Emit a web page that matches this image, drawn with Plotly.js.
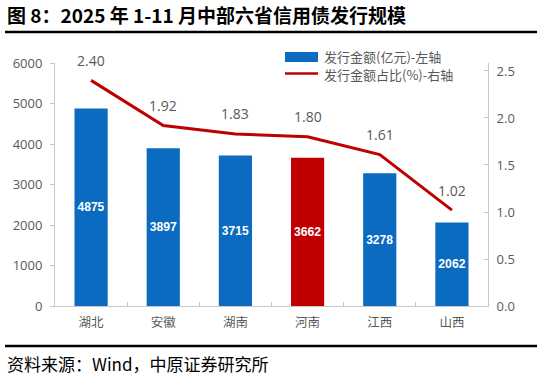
<!DOCTYPE html>
<html>
<head>
<meta charset="utf-8">
<script src="https://cdn.plot.ly/plotly-3.0.1.min.js"></script>
<style>
  html, body { margin: 0; padding: 0; background: #fff; }
  #chart { width: 542px; height: 378px; }
</style>
</head>
<body>
<div id="chart"></div>
<script>
// 2025年1-11月中部六省信用债发行规模
const provinces = ['湖北', '安徽', '湖南', '河南', '江西', '山西'];
const issueAmount = [4875, 3897, 3715, 3662, 3278, 2062];      // 亿元，左轴
const issueShare = [2.40, 1.92, 1.83, 1.80, 1.61, 1.02];        // %，右轴
const leftTicks = [0, 1000, 2000, 3000, 4000, 5000, 6000];
const rightTicks = [0, 0.5, 1.0, 1.5, 2.0, 2.5];
const highlight = '河南';

const BLUE = '#0a6bc1';
const RED = '#c00000';
const GREY_TEXT = '#595959';
const AXIS_LINE = '#c8c8c8';
const NUM_FONT = 'Open Sans, Liberation Sans, sans-serif';
const CJK_FONT = 'Noto Sans CJK SC, sans-serif';

const barColors = provinces.map(p => p === highlight ? RED : BLUE);

const bars = {
  type: 'bar',
  name: '发行金额(亿元)-左轴',
  x: provinces,
  y: issueAmount,
  marker: { color: barColors },
  width: 0.46,
  text: issueAmount.map(String),
  textposition: 'inside',
  insidetextanchor: 'middle',
  textangle: 0,
  textfont: { family: 'Liberation Sans, Arial, sans-serif', size: 13.5, color: '#ffffff', weight: 'bold' },
  hoverinfo: 'x+y',
  yaxis: 'y'
};

const shareLine = {
  type: 'scatter',
  mode: 'lines',
  name: '发行金额占比(%)-右轴',
  x: provinces,
  y: issueShare,
  line: { color: RED, width: 3 },
  yaxis: 'y2'
};

// value labels above the share line
const shareLabels = provinces.map((p, i) => ({
  x: p, y: issueShare[i], xref: 'x', yref: 'y2',
  text: issueShare[i].toFixed(2),
  showarrow: false, yshift: 20,
  font: { family: NUM_FONT, size: 14, color: GREY_TEXT }
}));

// plot area in pixels: left 55, right 488, top 63, bottom 306
const PL = 55, PR = 488, PT = 63, PB = 306;
const px = v => (v - PL) / (PR - PL);
const py = v => (PB - v) / (PB - PT);

const layout = {
  width: 542,
  height: 378,
  margin: { l: PL, r: 542 - PR, t: PT, b: 378 - PB, pad: 0 },
  paper_bgcolor: '#ffffff',
  plot_bgcolor: '#ffffff',
  showlegend: false,
  bargap: 0.54,
  title: {
    text: '图 8：2025 年 1-11 月中部六省信用债发行规模',
    x: 7 / 542, xanchor: 'left', xref: 'container',
    y: 1 - 16 / 378, yanchor: 'middle', yref: 'container',
    font: { family: CJK_FONT, size: 19, color: '#000000', weight: 'bold' }
  },
  xaxis: {
    type: 'category',
    showline: true, linecolor: AXIS_LINE, linewidth: 1,
    ticks: 'inside', tickson: 'boundaries', ticklen: 4, tickcolor: AXIS_LINE,
    ticklabelstandoff: 5,
    tickfont: { family: CJK_FONT, size: 12.5, color: GREY_TEXT },
    showgrid: false, zeroline: false,
    fixedrange: true
  },
  yaxis: {
    range: [0, 6000],
    tickvals: leftTicks,
    ticktext: leftTicks.map(String),
    showline: true, linecolor: AXIS_LINE, linewidth: 1,
    ticks: 'outside', ticklen: 4, tickcolor: AXIS_LINE,
    ticklabelstandoff: 5,
    tickfont: { family: NUM_FONT, size: 13, color: GREY_TEXT },
    showgrid: false, zeroline: false,
    fixedrange: true
  },
  yaxis2: {
    overlaying: 'y', side: 'right',
    range: [0, 2.585],
    tickvals: rightTicks,
    ticktext: rightTicks.map(v => v.toFixed(1)),
    showline: true, linecolor: AXIS_LINE, linewidth: 1,
    ticks: 'inside', ticklen: 4, tickcolor: AXIS_LINE,
    ticklabelstandoff: 5,
    tickfont: { family: NUM_FONT, size: 13, color: GREY_TEXT },
    showgrid: false, zeroline: false,
    fixedrange: true
  },
  shapes: [
    // rule under the title
    { type: 'line', xref: 'paper', yref: 'paper', x0: px(5), x1: px(537), y0: py(32), y1: py(32),
      line: { color: '#000000', width: 2.5 } },
    // rule above the source note
    { type: 'line', xref: 'paper', yref: 'paper', x0: px(5), x1: px(537), y0: py(346), y1: py(346),
      line: { color: '#000000', width: 2.5 } },
    // legend keys
    { type: 'rect', xref: 'paper', yref: 'paper', x0: px(285), x1: px(318), y0: py(62), y1: py(52),
      fillcolor: BLUE, line: { width: 0 } },
    { type: 'line', xref: 'paper', yref: 'paper', x0: px(285), x1: px(318), y0: py(73.5), y1: py(73.5),
      line: { color: RED, width: 2.5 } }
  ],
  annotations: shareLabels.concat([
    { xref: 'paper', yref: 'paper', x: px(322), y: py(57), xanchor: 'left', yanchor: 'middle',
      text: bars.name, showarrow: false,
      font: { family: CJK_FONT, size: 13, color: GREY_TEXT } },
    { xref: 'paper', yref: 'paper', x: px(322), y: py(74), xanchor: 'left', yanchor: 'middle',
      text: shareLine.name, showarrow: false,
      font: { family: CJK_FONT, size: 13, color: GREY_TEXT } },
    { xref: 'paper', yref: 'paper', x: px(5), y: py(363), xanchor: 'left', yanchor: 'middle',
      text: '资料来源：Wind，中原证券研究所', showarrow: false,
      font: { family: CJK_FONT, size: 17, color: '#000000' } }
  ])
};

Plotly.newPlot('chart', [bars, shareLine], layout, { displayModeBar: false, staticPlot: true });
</script>
</body>
</html>
